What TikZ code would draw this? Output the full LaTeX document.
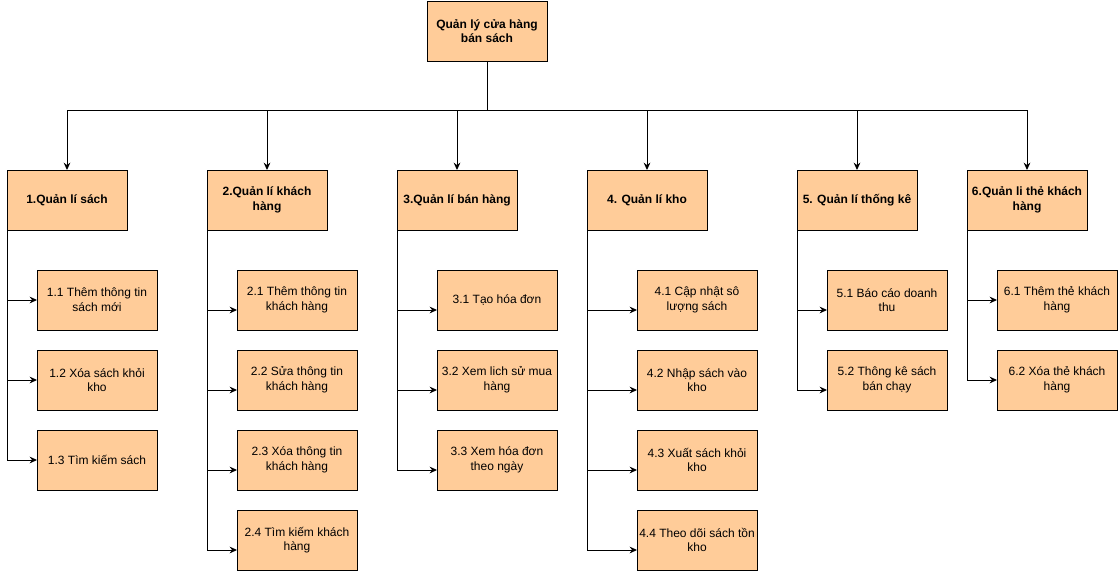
\documentclass[tikz,border=0pt]{standalone}
\usepackage{fontspec}
\setmainfont{Liberation Sans}
\usepackage{xcolor}
\definecolor{boxfill}{HTML}{FFCC99}
\usetikzlibrary{arrows.meta,positioning}

\tikzset{
  box/.style={draw=black, fill=boxfill, line width=0.75pt, minimum width=90pt,
    minimum height=45pt, align=center, inner sep=1pt, outer sep=0pt,
    font=\fontsize{9}{11}\selectfont},
  mainbox/.style={box, font=\fontsize{9}{11}\selectfont\bfseries},
  subbox/.style={box},
  arr/.style={-{Stealth[length=5.5pt,width=5pt]}, line width=0.75pt},
  link/.style={line width=0.75pt},
}

\begin{document}
\begin{tikzpicture}[x=0.75pt, y=-0.75pt, node distance=15pt]
\useasboundingbox (0,0) rectangle (1118,571);

% root and main functions
\node[mainbox] (root) at (487,31) {Quản lý cửa hàng\\bán sách};
\coordinate (bus) at (487,110);
\node[mainbox] (q1) at (67,200) {1.Quản lí sách};
\node[mainbox] (q2) at (267,200) {2.Quản lí khách\\hàng};
\node[mainbox] (q3) at (457,200) {3.Quản lí bán hàng};
\node[mainbox] (q4) at (647,200) {4. Quản lí kho};
\node[mainbox] (q5) at (857,200) {5. Quản lí thống kê};
\node[mainbox] (q6) at (1027,200) {6.Quản li thẻ khách\\hàng};

% sub functions
\node[subbox, anchor=north west] (q11) at ([xshift=22.5pt,yshift=-30pt]q1.south west) {1.1 Thêm thông tin\\sách mới};
\node[subbox, below=of q11] (q12) {1.2 Xóa sách khỏi\\kho};
\node[subbox, below=of q12] (q13) {1.3 Tìm kiếm sách};

\node[subbox, anchor=north west] (q21) at ([xshift=22.5pt,yshift=-30pt]q2.south west) {2.1 Thêm thông tin\\khách hàng};
\node[subbox, below=of q21] (q22) {2.2 Sửa thông tin\\khách hàng};
\node[subbox, below=of q22] (q23) {2.3 Xóa thông tin\\khách hàng};
\node[subbox, below=of q23] (q24) {2.4 Tìm kiếm khách\\hàng};

\node[subbox, anchor=north west] (q31) at ([xshift=30pt,yshift=-30pt]q3.south west) {3.1 Tạo hóa đơn};
\node[subbox, below=of q31] (q32) {3.2 Xem lich sử mua\\hàng};
\node[subbox, below=of q32] (q33) {3.3 Xem hóa đơn\\theo ngày};

\node[subbox, anchor=north west] (q41) at ([xshift=37.5pt,yshift=-30pt]q4.south west) {4.1 Cập nhật sô\\lượng sách};
\node[subbox, below=of q41] (q42) {4.2 Nhập sách vào\\kho};
\node[subbox, below=of q42] (q43) {4.3 Xuất sách khỏi\\kho};
\node[subbox, below=of q43] (q44) {4.4 Theo dõi sách tồn\\kho};

\node[subbox, anchor=north west] (q51) at ([xshift=22.5pt,yshift=-30pt]q5.south west) {5.1 Báo cáo doanh\\thu};
\node[subbox, below=of q51] (q52) {5.2 Thông kê sách\\bán chạy};

\node[subbox, anchor=north west] (q61) at ([xshift=22.5pt,yshift=-30pt]q6.south west) {6.1 Thêm thẻ khách\\hàng};
\node[subbox, below=of q61] (q62) {6.2 Xóa thẻ khách\\hàng};

% root to main functions
\draw[link] (root.south) -- (bus);
\draw[arr] (bus) -| (q1.north);
\draw[arr] (bus) -| (q2.north);
\draw[arr] (bus) -| (q3.north);
\draw[arr] (bus) -| (q4.north);
\draw[arr] (bus) -| (q5.north);
\draw[arr] (bus) -| (q6.north);

% main functions to sub functions
\draw[arr] (q1.south west) |- (q11.west);
\draw[arr] (q1.south west) |- (q12.west);
\draw[arr] (q1.south west) |- (q13.west);

\draw[arr] (q2.south west) |- ([yshift=-7.5pt]q21.west);
\draw[arr] (q2.south west) |- ([yshift=-7.5pt]q22.west);
\draw[arr] (q2.south west) |- ([yshift=-7.5pt]q23.west);
\draw[arr] (q2.south west) |- ([yshift=-7.5pt]q24.west);

\draw[arr] (q3.south west) |- ([yshift=-7.5pt]q31.west);
\draw[arr] (q3.south west) |- ([yshift=-7.5pt]q32.west);
\draw[arr] (q3.south west) |- ([yshift=-7.5pt]q33.west);

\draw[arr] (q4.south west) |- ([yshift=-7.5pt]q41.west);
\draw[arr] (q4.south west) |- ([yshift=-7.5pt]q42.west);
\draw[arr] (q4.south west) |- ([yshift=-7.5pt]q43.west);
\draw[arr] (q4.south west) |- ([yshift=-7.5pt]q44.west);

\draw[arr] (q5.south west) |- ([yshift=-7.5pt]q51.west);
\draw[arr] (q5.south west) |- ([yshift=-7.5pt]q52.west);

\draw[arr] (q6.south west) |- (q61.west);
\draw[arr] (q6.south west) |- (q62.west);
\end{tikzpicture}
\end{document}
